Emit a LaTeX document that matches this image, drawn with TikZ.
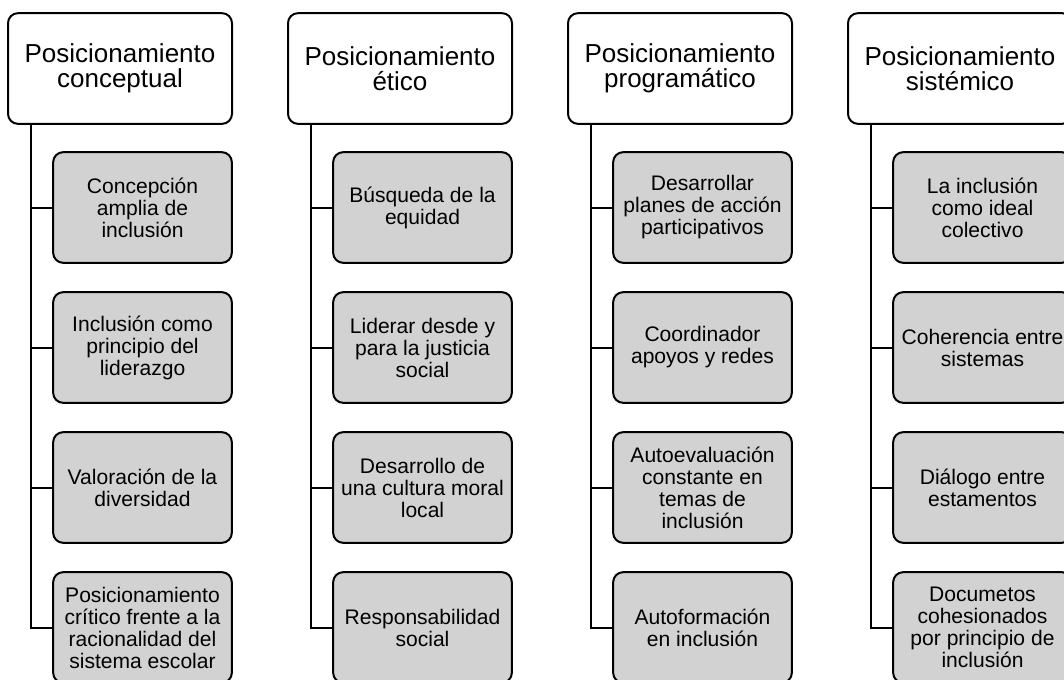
\documentclass[tikz,border=0pt]{standalone}
\usepackage{fontspec}
\setmainfont{Liberation Sans}
\definecolor{boxgray}{RGB}{210,210,210}
\tikzset{
  headbox/.style={draw=black, line width=1.5pt, fill=white, rounded corners=7.5pt,
    minimum width=168pt, minimum height=83pt, inner sep=0pt, align=center,
    font=\fontsize{19.5}{19}\selectfont},
  itembox/.style={draw=black, line width=1.5pt, fill=boxgray, rounded corners=7.5pt,
    minimum width=134pt, minimum height=83pt, inner sep=0pt, align=center,
    font=\fontsize{15.8}{16.5}\selectfont},
  link/.style={draw=black, line width=1.5pt}
}
\begin{document}
\begin{tikzpicture}[x=0.75pt,y=-0.75pt]
\useasboundingbox (0,0) rectangle (1064,679);
\clip (0,0) rectangle (1064,679);
\fill[white] (0,0) rectangle (1064,679);

% Column 1
\node[headbox] (h1) at (120,68.5) {Posicionamiento\\conceptual};
\node[itembox] (a1) at (142.5,207.5) {Concepción\\amplia de\\inclusión};
\node[itembox] (a2) at (142.5,347.5) {Inclusión como\\principio del\\liderazgo};
\node[itembox] (a3) at (142.5,487.5) {Valoración de la\\diversidad};
\node[itembox] (a4) at (142.5,627.5) {Posicionamiento\\crítico frente a la\\racionalidad del\\sistema escolar};
\coordinate (t1) at ([xshift=-66.75pt]h1.south);
\coordinate (e1) at (t1 |- a4.west);
\draw[link] (t1) -- (e1) -- (a4.west);
\draw[link] (t1 |- a1.west) -- (a1.west);
\draw[link] (t1 |- a2.west) -- (a2.west);
\draw[link] (t1 |- a3.west) -- (a3.west);

% Column 2
\node[headbox] (h2) at (400,68.5) {Posicionamiento\\ético};
\node[itembox] (b1) at (422.5,207.5) {Búsqueda de la\\equidad};
\node[itembox] (b2) at (422.5,347.5) {Liderar desde y\\para la justicia\\social};
\node[itembox] (b3) at (422.5,487.5) {Desarrollo de\\una cultura moral\\local};
\node[itembox] (b4) at (422.5,627.5) {Responsabilidad\\social};
\coordinate (t2) at ([xshift=-66.75pt]h2.south);
\coordinate (e2) at (t2 |- b4.west);
\draw[link] (t2) -- (e2) -- (b4.west);
\draw[link] (t2 |- b1.west) -- (b1.west);
\draw[link] (t2 |- b2.west) -- (b2.west);
\draw[link] (t2 |- b3.west) -- (b3.west);

% Column 3
\node[headbox] (h3) at (680,68.5) {Posicionamiento\\programático};
\node[itembox] (c1) at (702.5,207.5) {Desarrollar\\planes de acción\\participativos};
\node[itembox] (c2) at (702.5,347.5) {Coordinador\\apoyos y redes};
\node[itembox] (c3) at (702.5,487.5) {Autoevaluación\\constante en\\temas de\\inclusión};
\node[itembox] (c4) at (702.5,627.5) {Autoformación\\en inclusión};
\coordinate (t3) at ([xshift=-66.75pt]h3.south);
\coordinate (e3) at (t3 |- c4.west);
\draw[link] (t3) -- (e3) -- (c4.west);
\draw[link] (t3 |- c1.west) -- (c1.west);
\draw[link] (t3 |- c2.west) -- (c2.west);
\draw[link] (t3 |- c3.west) -- (c3.west);

% Column 4
\node[headbox] (h4) at (960,68.5) {Posicionamiento\\sistémico};
\node[itembox] (d1) at (982.5,207.5) {La inclusión\\como ideal\\colectivo};
\node[itembox] (d2) at (982.5,347.5) {Coherencia entre\\sistemas};
\node[itembox] (d3) at (982.5,487.5) {Diálogo entre\\estamentos};
\node[itembox] (d4) at (982.5,627.5) {Documetos\\cohesionados\\por principio de\\inclusión};
\coordinate (t4) at ([xshift=-66.75pt]h4.south);
\coordinate (e4) at (t4 |- d4.west);
\draw[link] (t4) -- (e4) -- (d4.west);
\draw[link] (t4 |- d1.west) -- (d1.west);
\draw[link] (t4 |- d2.west) -- (d2.west);
\draw[link] (t4 |- d3.west) -- (d3.west);
\end{tikzpicture}
\end{document}
